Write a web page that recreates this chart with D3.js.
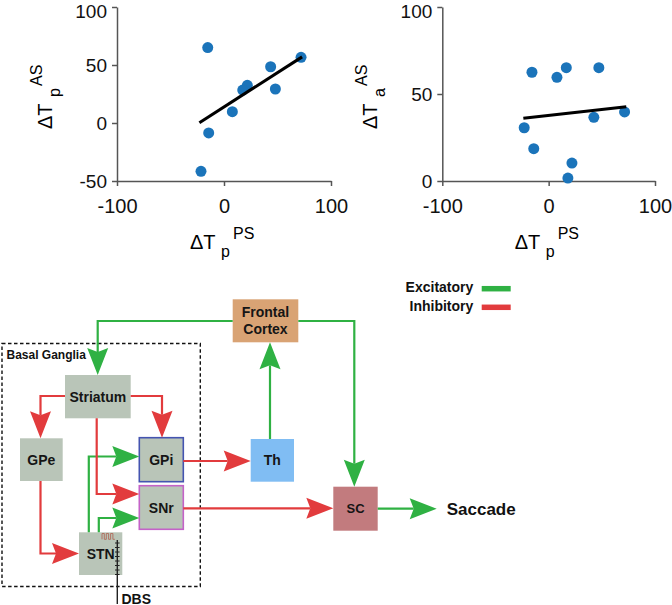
<!DOCTYPE html>
<html>
<head>
<meta charset="utf-8">
<script src="https://cdn.jsdelivr.net/npm/d3@7"></script>
<style>
  html, body { margin: 0; padding: 0; background: #fff; }
  svg { display: block; font-family: "Liberation Sans", Arial, sans-serif; }
</style>
</head>
<body>
<svg id="chart" width="672" height="605"></svg>
<script>
// ---------------- DATA ----------------
// Panel 1: ΔTp(PS) vs ΔTp(AS)
const p1X = [-15.2, 72, 43.6, 21.8, 17.5, 48, 7.8, -14.3, -21.5];
const p1Y = [65, 56.6, 48.5, 32.5, 28.4, 29.3, 9.8, -8.6, -41.7];
const p1FitX = [-23, 73];
const p1FitY = [0.3, 57];
const p1YTicks = [-50, 0, 50, 100];

// Panel 2: ΔTp(PS) vs ΔTa(AS)
const p2X = [-15.7, 7.8, 16.6, 47.2, 42.5, 71.4, -23, -14, 21.9, 18.1];
const p2Y = [62.5, 59.6, 65.1, 65.1, 36.6, 39.7, 30.6, 18.6, 10.3, 1.7];
const p2FitX = [-23.8, 73];
const p2FitY = [36, 42.7];
const p2YTicks = [0, 50, 100];

const xTicks = [-100, 0, 100];

// Diagram content
const nodeIds    = ["FC", "Str", "GPe", "GPi", "SNr", "STN", "Th", "SC"];
const nodeLabels = [["Frontal", "Cortex"], ["Striatum"], ["GPe"], ["GPi"], ["SNr"], ["STN"], ["Th"], ["SC"]];
const excitatory = [["FC", "Str"], ["FC", "SC"], ["Th", "FC"], ["STN", "GPi"], ["STN", "SNr"], ["SC", "Saccade"]];
const inhibitory = [["Str", "GPe"], ["Str", "GPi"], ["Str", "SNr"], ["GPe", "STN"], ["GPi", "Th"], ["SNr", "SC"]];
const legendLabels = ["Excitatory", "Inhibitory"];

// ---------------- STYLE / LAYOUT ----------------
const GREEN = "#2fb143", RED = "#e23b3d", DOT = "#1b74ba", AXIS = "#555";
const svg = d3.select("#chart");
const fmt = d => String(d);

function scatter(opt) {
  const x = d3.scaleLinear().domain([-100, 100]).range(opt.xr);
  const y = d3.scaleLinear().domain(opt.yd).range([181, 7]);
  const g = svg.append("g");
  const xa = g.append("g").attr("transform", `translate(0,${y(opt.yd[0])})`)
    .call(d3.axisBottom(x).tickValues(xTicks).tickSize(5).tickSizeOuter(0).tickPadding(13).tickFormat(fmt));
  const ya = g.append("g").attr("transform", `translate(${x(-100)},0)`)
    .call(d3.axisLeft(y).tickValues(opt.yTicks).tickSize(5).tickSizeOuter(0).tickPadding(5).tickFormat(fmt));
  [xa, ya].forEach(a => {
    a.select(".domain").attr("stroke", AXIS).attr("stroke-width", 1.5);
    a.selectAll(".tick line").attr("stroke", AXIS).attr("stroke-width", 1.5);
    a.selectAll(".tick text").attr("font-size", 19).attr("fill", "#111")
      .attr("font-family", "Liberation Sans, Arial, sans-serif");
  });
  xa.selectAll(".tick text").attr("font-size", 20);
  // top label sits a little low so it stays inside the picture
  ya.selectAll(".tick text").filter(d => d === opt.yd[1]).attr("dy", "0.55em");

  g.selectAll("circle").data(opt.xs).enter().append("circle")
    .attr("cx", d => x(d)).attr("cy", (d, i) => y(opt.ys[i])).attr("r", 5.5).attr("fill", DOT);

  g.append("path").datum(opt.fx.map((d, i) => [d, opt.fy[i]]))
    .attr("d", d3.line().x(d => x(d[0])).y(d => y(d[1])))
    .attr("stroke", "#000").attr("stroke-width", 3).attr("fill", "none");

  // x label  ΔT p PS
  const cx = x(0);
  const xl = g.append("g").attr("fill", "#000");
  xl.append("text").attr("x", cx - 34).attr("y", 248.5).attr("font-size", 20).text("ΔT");
  xl.append("text").attr("x", cx - 3).attr("y", 257).attr("font-size", 16).text("p");
  xl.append("text").attr("x", cx + 9).attr("y", 239).attr("font-size", 16).text("PS");

  // y label rotated
  const yl = g.append("g").attr("transform", `translate(${x(-100) - 65},${(y(opt.yd[0]) + y(opt.yd[1])) / 2 + 1}) rotate(-90)`);
  yl.append("text").attr("x", -34).attr("y", 0).attr("font-size", 20).text("ΔT");
  yl.append("text").attr("x", -2).attr("y", 8).attr("font-size", 16).text(opt.sub);
  yl.append("text").attr("x", 9).attr("y", -10).attr("font-size", 16).text("AS");
}

scatter({ xr: [117, 331], yd: [-50, 100], yTicks: p1YTicks, xs: p1X, ys: p1Y, fx: p1FitX, fy: p1FitY, sub: "p" });
scatter({ xr: [442.3, 655], yd: [0, 100], yTicks: p2YTicks, xs: p2X, ys: p2Y, fx: p2FitX, fy: p2FitY, sub: "a" });

// ---------------- DIAGRAM ----------------
const box = {
  FC:  { x: 232.7, y: 299.3, w: 65.6, h: 43,   fill: "#d9a374", stroke: "none" },
  Str: { x: 65,    y: 375,   w: 65.7, h: 43.3, fill: "#b9c5b8", stroke: "none" },
  GPe: { x: 20,    y: 438.3, w: 42.7, h: 42.7, fill: "#b9c5b8", stroke: "none" },
  GPi: { x: 139.3, y: 437.7, w: 44,   h: 44,   fill: "#b9c5b8", stroke: "#4454b0" },
  SNr: { x: 139.3, y: 485.7, w: 44,   h: 43.6, fill: "#b9c5b8", stroke: "#c462c8" },
  STN: { x: 79,    y: 532.3, w: 43.3, h: 42.7, fill: "#b9c5b8", stroke: "none" },
  Th:  { x: 250.7, y: 439,   w: 43.3, h: 42.7, fill: "#80bdf3", stroke: "none" },
  SC:  { x: 333.3, y: 486.7, w: 44.4, h: 44,   fill: "#c27b7e", stroke: "none" }
};
const routes = {
  "FC-Str":   [[232.7, 321], [97.7, 321], [97.7, 375]],
  "FC-SC":    [[298.3, 321], [354.3, 321], [354.3, 486.7]],
  "Th-FC":    [[270, 439], [270, 342.3]],
  "STN-GPi":  [[88.8, 532.3], [88.8, 456.5], [139.3, 456.5]],
  "STN-SNr":  [[98.8, 532.3], [98.8, 518], [139.3, 518]],
  "SC-Saccade": [[377.7, 508.7], [436.7, 508.7]],
  "Str-GPe":  [[65, 396], [40.5, 396], [40.5, 438.3]],
  "Str-GPi":  [[130.7, 396], [162, 396], [162, 437.7]],
  "Str-SNr":  [[96.7, 418.3], [96.7, 494], [139.3, 494]],
  "GPe-STN":  [[40.5, 481], [40.5, 553.5], [79, 553.5]],
  "GPi-Th":   [[183.3, 461], [250.7, 461]],
  "SNr-SC":   [[183.3, 508.3], [333.3, 508.3]]
};

const dg = svg.append("g");

// dashed basal ganglia frame
dg.append("rect").attr("x", 2).attr("y", 343.5).attr("width", 198.3).attr("height", 243)
  .attr("fill", "none").attr("stroke", "#111").attr("stroke-width", 1.4).attr("stroke-dasharray", "3.5,2.5");
dg.append("text").attr("x", 6.5).attr("y", 359.3).attr("font-size", 12).attr("font-weight", "bold")
  .attr("fill", "#111").text("Basal Ganglia");

// boxes
nodeIds.forEach((id, i) => {
  const b = box[id];
  dg.append("rect").attr("x", b.x).attr("y", b.y).attr("width", b.w).attr("height", b.h)
    .attr("fill", b.fill).attr("stroke", b.stroke).attr("stroke-width", 1.6);
  const lines = nodeLabels[i];
  const fs = id === "SC" ? 13 : 14;
  lines.forEach((t, k) => {
    dg.append("text").attr("x", b.x + b.w / 2)
      .attr("y", b.y + b.h / 2 + fs * 0.36 + (k - (lines.length - 1) / 2) * 16.7)
      .attr("text-anchor", "middle").attr("font-size", fs).attr("font-weight", "bold")
      .attr("fill", "#151515").text(t);
  });
});

// edges with arrowheads
const L = 27, W = 10.5, N = 4;
function drawEdge(pts, color) {
  const n = pts.length;
  const [tx, ty] = pts[n - 1], [px, py] = pts[n - 2];
  const ang = Math.atan2(ty - py, tx - px);
  const cos = Math.cos(ang), sin = Math.sin(ang);
  const tr = (a, b) => [tx + a * cos - b * sin, ty + a * sin + b * cos];
  const linePts = pts.slice(0, n - 1).concat([tr(-L + N, 0)]);
  dg.append("path").attr("d", d3.line()(linePts)).attr("fill", "none")
    .attr("stroke", color).attr("stroke-width", 2.2);
  dg.append("path").attr("d", d3.line()([tr(0, 0), tr(-L, -W), tr(-L + N, 0), tr(-L, W)]) + "Z")
    .attr("fill", color);
}
excitatory.forEach(e => drawEdge(routes[e.join("-")], GREEN));
inhibitory.forEach(e => drawEdge(routes[e.join("-")], RED));

// Saccade label
dg.append("text").attr("x", 446.7).attr("y", 514.5).attr("font-size", 17).attr("font-weight", "bold")
  .attr("fill", "#111").text("Saccade");

// DBS electrode
dg.append("line").attr("x1", 117.3).attr("x2", 117.3).attr("y1", 540).attr("y2", 604)
  .attr("stroke", "#222").attr("stroke-width", 1.4);
d3.range(543, 575, 4.5).forEach(yy => {
  dg.append("line").attr("x1", 115).attr("x2", 119.6).attr("y1", yy).attr("y2", yy)
    .attr("stroke", "#222").attr("stroke-width", 1);
});
dg.append("text").attr("x", 121.5).attr("y", 603.5).attr("font-size", 14).attr("font-weight", "bold")
  .attr("fill", "#111").text("DBS");
// pulse train icon
const pulse = [];
[0, 1, 2].forEach(k => {
  const x0 = 102 + k * 4.3;
  pulse.push([x0, 539.3], [x0, 533.5], [x0 + 2.3, 533.5], [x0 + 2.3, 539.3], [x0 + 4.3, 539.3]);
});
dg.append("path").attr("d", d3.line()(pulse)).attr("fill", "none").attr("stroke", "#b06a5a").attr("stroke-width", 0.9);

// legend
const lg = svg.append("g");
legendLabels.forEach((t, i) => {
  lg.append("text").attr("x", 473.3).attr("y", 292.3 + i * 18.4).attr("text-anchor", "end")
    .attr("font-size", 14).attr("font-weight", "bold").attr("fill", "#111").text(t);
  lg.append("line").attr("x1", 481.7).attr("x2", 510.7).attr("y1", 288.7 + i * 18.6).attr("y2", 288.7 + i * 18.6)
    .attr("stroke", i === 0 ? GREEN : RED).attr("stroke-width", 5.5);
});
</script>
</body>
</html>
